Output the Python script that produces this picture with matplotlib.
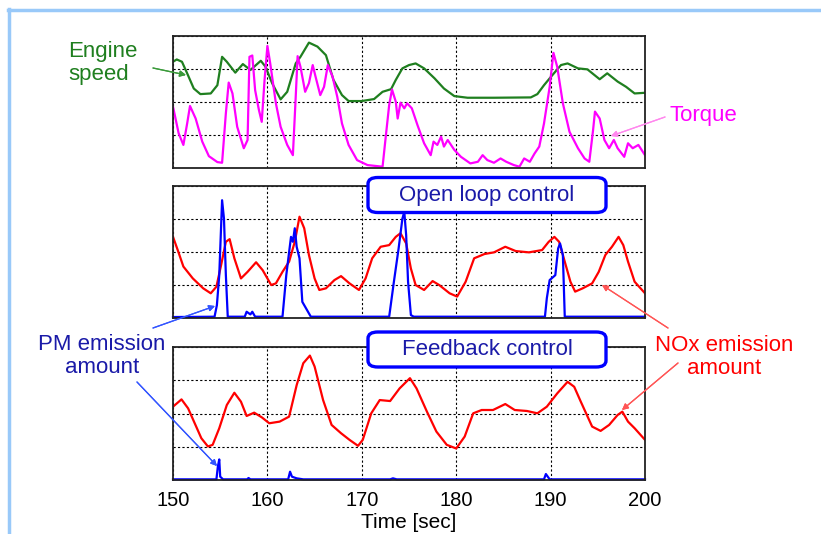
import matplotlib
matplotlib.use("Agg")
import matplotlib.pyplot as plt
from matplotlib.patches import FancyBboxPatch
from matplotlib.lines import Line2D

plt.rcParams['font.family'] = ['Liberation Sans', 'DejaVu Sans']

W, H = 821, 534

# engine speed (grid units 0-4)
speed_t = [150, 150.4, 150.95, 151.5, 152.2, 152.9, 154.0, 154.7, 155.2, 155.7, 156.6, 157.4, 158.2,
           159.3, 159.8, 160.5, 161.4, 162.1, 163.0, 163.5, 164.4, 165.3, 166.2, 167.0, 167.9, 168.6,
           170.0, 171.3, 172.2, 173.1, 173.6, 174.3, 175.0, 175.7, 176.6, 177.7, 178.7, 179.8, 181.2,
           184.0, 187.9, 188.6, 189.3, 190.2, 191.1, 191.8, 192.9, 193.9, 195.2, 196.0, 197.1, 198.0,
           198.9, 200]
speed_v = [3.21, 3.28, 3.21, 2.86, 2.40, 2.23, 2.25, 2.5, 3.36, 3.21, 2.88, 3.14, 2.96,
           3.24, 3.06, 2.56, 2.07, 2.30, 3.16, 3.36, 3.79, 3.67, 3.41, 2.66, 2.20, 2.02,
           2.02, 2.08, 2.30, 2.38, 2.66, 3.01, 3.11, 3.16, 3.01, 2.71, 2.40, 2.17, 2.12,
           2.12, 2.13, 2.23, 2.5, 2.81, 3.11, 3.16, 3.01, 2.98, 2.68, 2.86, 2.61, 2.45,
           2.25, 2.27]

# torque
torque_t = [150, 150.6, 151.1, 151.5, 151.8, 152.4, 153.1, 153.8, 154.7, 155.2, 155.6, 155.9, 156.3,
            156.8, 157.5, 157.9, 158.1, 158.4, 158.7, 159.1, 159.4, 159.7, 160.0, 160.3, 160.9, 161.4,
            162.1, 162.7, 163.0, 163.2, 163.5, 164.0, 164.4, 164.8, 165.1, 165.6, 166.0, 166.4, 166.9,
            167.4, 167.9, 168.6, 169.5, 170.6, 172.2, 172.5, 172.9, 173.2, 173.6, 173.8, 174.1, 174.5,
            174.8, 175.3, 175.9, 176.6, 177.3, 177.6, 178.0, 178.4, 178.7, 179.1, 179.8, 180.5, 181.5,
            182.3, 182.8, 183.3, 184.0, 184.7, 185.3, 186.1, 186.7, 187.2, 187.8, 188.3, 188.8, 189.3,
            189.9, 190.3, 190.7, 191.3, 192.0, 192.9, 193.6, 194.1, 194.5, 194.7, 195.2, 195.7, 196.2,
            196.7, 197.1, 197.8, 198.2, 198.7, 199.3, 200]
torque_v = [1.85, 1.04, 0.69, 1.34, 1.87, 1.49, 0.79, 0.35, 0.17, 0.15, 1.65, 2.58, 2.25,
            1.24, 0.59, 0.84, 3.36, 3.40, 2.35, 1.75, 1.39, 2.66, 3.69, 3.16, 1.95, 1.24,
            0.69, 0.38, 2.15, 3.38, 3.06, 2.30, 2.56, 3.11, 2.76, 2.20, 2.45, 3.11, 2.76,
            2.15, 1.34, 0.69, 0.23, 0.08, 0.03, 0.84, 1.90, 2.37, 2.0, 1.49, 1.97, 1.80,
            1.95, 1.80, 1.29, 0.74, 0.38, 0.79, 0.69, 0.94, 0.64, 0.84, 0.54, 0.33, 0.13,
            0.18, 0.38, 0.23, 0.15, 0.28, 0.18, 0.08, 0.03, 0.28, 0.18, 0.43, 0.64, 1.34,
            2.45, 3.48, 3.06, 1.95, 1.09, 0.59, 0.28, 0.18, 1.14, 1.70, 1.49, 0.84, 0.59,
            0.84, 0.59, 0.33, 0.74, 0.59, 0.69, 0.38]

# NOx, open loop
nox_ol_t = [150, 150.5, 151.1, 152.1, 153.2, 154.0, 154.6, 155.1, 155.6, 156.0, 156.5, 157.2, 157.9,
            158.8, 159.5, 160.4, 160.9, 161.6, 162.3, 162.9, 163.4, 163.9, 164.4, 165.0, 165.5, 166.2,
            167.1, 167.8, 168.7, 169.7, 170.4, 171.1, 172.0, 172.9, 173.6, 174.1, 174.7, 175.2, 175.7,
            176.6, 177.5, 178.2, 179.3, 180.1, 181.0, 181.9, 183.0, 184.0, 185.2, 186.3, 187.7, 189.1,
            189.8, 190.4, 190.9, 191.4, 192.1, 192.6, 193.4, 194.4, 195.1, 195.8, 196.5, 197.2, 197.7,
            198.2, 198.9, 200]
nox_ol_v = [2.45, 2.05, 1.55, 1.19, 0.89, 0.74, 0.94, 1.60, 2.30, 2.38, 1.80, 1.19, 1.39,
            1.68, 1.44, 0.99, 1.04, 1.39, 1.70, 2.30, 3.06, 2.71, 1.90, 1.19, 0.84, 0.89,
            1.14, 1.26, 1.04, 0.84, 1.19, 1.80, 2.15, 2.20, 2.45, 2.56, 2.25, 1.49, 0.99,
            0.84, 1.11, 0.99, 0.74, 0.64, 1.09, 1.80, 1.93, 1.98, 2.15, 2.02, 1.98, 2.05,
            2.30, 2.45, 2.30, 1.80, 1.09, 0.79, 0.89, 1.04, 1.39, 1.90, 2.15, 2.45, 2.20,
            1.70, 1.09, 0.74]

# PM, open loop
pm_ol_t = [150, 154.4, 154.65, 154.9, 155.2, 155.4, 155.6, 155.8, 157.6, 157.8, 158.2, 158.4, 158.7,
           161.6, 162.0, 162.5, 162.7, 162.9, 163.1, 163.4, 163.7, 164.3, 164.6, 172.9, 173.4, 173.9,
           174.3, 174.5, 174.7, 174.9, 175.2, 175.5, 189.4, 189.6, 189.9, 190.5, 190.8, 191.0, 191.3,
           191.5, 200]
pm_ol_v = [0.02, 0.03, 0.38, 1.29, 3.56, 3.0, 1.29, 0.03, 0.03, 0.18, 0.1, 0.18, 0.03,
           0.03, 1.29, 2.45, 2.30, 2.71, 2.15, 1.80, 0.48, 0.18, 0.03, 0.03, 1.09, 2.10,
           3.0, 3.21, 2.5, 1.09, 0.08, 0.03, 0.03, 0.59, 1.14, 1.29, 2.10, 2.25, 1.90,
           0.03, 0.03]

# NOx, feedback
nox_fb_t = [150, 150.9, 151.6, 152.3, 153.0, 153.7, 154.2, 154.9, 155.7, 156.5, 157.2, 157.8, 158.6,
            159.4, 160.2, 161.3, 162.3, 163.1, 163.8, 164.5, 165.0, 165.9, 166.8, 167.8, 168.7, 169.6,
            170.1, 171.0, 171.9, 173.0, 174.0, 175.1, 175.8, 176.9, 177.9, 179.0, 180.0, 180.9, 181.8,
            182.7, 183.9, 185.2, 186.2, 187.5, 188.6, 189.6, 190.7, 191.8, 192.5, 193.2, 194.4, 195.3,
            196.2, 197.1, 197.6, 198.2, 198.9, 200]
nox_fb_v = [2.21, 2.43, 2.16, 1.71, 1.26, 1.01, 1.06, 1.56, 2.26, 2.63, 2.36, 1.93, 2.03,
            1.89, 1.71, 1.76, 1.91, 2.86, 3.52, 3.75, 3.42, 2.41, 1.66, 1.41, 1.21, 1.03,
            1.21, 2.01, 2.41, 2.38, 2.76, 3.07, 2.76, 2.06, 1.46, 1.06, 0.95, 1.31, 2.01,
            2.11, 2.11, 2.29, 2.11, 2.08, 2.01, 2.21, 2.61, 2.96, 2.81, 2.36, 1.61, 1.48,
            1.66, 1.96, 2.06, 1.76, 1.56, 1.21]

# PM, feedback
pm_fb_t = [150, 154.6, 154.75, 154.9, 155.0, 155.3, 157.85, 158.0, 158.2, 162.2, 162.4, 162.6, 163.1,
           163.8, 173.0, 173.3, 173.7, 189.3, 189.5, 189.7, 189.9, 200]
pm_fb_v = [0.02, 0.02, 0.40, 0.62, 0.10, 0.02, 0.02, 0.06, 0.02, 0.02, 0.25, 0.10, 0.05,
           0.02, 0.02, 0.05, 0.02, 0.02, 0.18, 0.10, 0.02, 0.02]

x_ticks = [150, 160, 170, 180, 190, 200]

GREEN = '#1f7f1f'
MAGENTA = '#ff00ff'
RED = '#ff0000'
BLUE = '#0000ff'
DARKBLUE = '#1a1aa8'


def fx(px):
    return px / W


def fy(py):
    return 1 - py / H


fig = plt.figure(figsize=(W / 100, H / 100), dpi=100)

left, width = fx(173), fx(645) - fx(173)
ax_top = fig.add_axes([left, fy(167.7), width, fy(35.7) - fy(167.7)])
ax_mid = fig.add_axes([left, fy(317.7), width, fy(185.7) - fy(317.7)])
ax_bot = fig.add_axes([left, fy(480), width, fy(347.3) - fy(480)])

for ax in (ax_top, ax_mid, ax_bot):
    ax.set_xlim(150, 200)
    ax.set_ylim(0, 4)
    ax.set_xticks(x_ticks)
    ax.set_yticks([0, 1, 2, 3, 4])
    ax.set_yticklabels([])
    ax.tick_params(length=0, labelsize=14.5, pad=8)
    ax.grid(True, color='black', linestyle=(0, (2, 2)), linewidth=0.8)
    for s in ax.spines.values():
        s.set_linewidth(1.3)
        s.set_color('#222222')
for ax in (ax_top, ax_mid):
    ax.set_xticklabels([])

line_kw = dict(lw=1.6, solid_joinstyle='round')
ax_top.plot(speed_t, speed_v, color=GREEN, **line_kw)
ax_top.plot(torque_t, torque_v, color=MAGENTA, **line_kw)

ax_mid.plot(nox_ol_t, nox_ol_v, color=RED, **line_kw)
ax_mid.plot(pm_ol_t, pm_ol_v, color=BLUE, clip_on=False, **line_kw)

ax_bot.plot(nox_fb_t, nox_fb_v, color=RED, **line_kw)
ax_bot.plot(pm_fb_t, pm_fb_v, color=BLUE, clip_on=False, **line_kw)
ax_bot.set_xlabel('Time [sec]', fontsize=15, labelpad=2)

# control mode boxes
for label, cy in (('Open loop control', 195), ('Feedback control', 349.5)):
    bw, bh = 238, 35
    box = FancyBboxPatch((fx(487 - bw / 2), fy(cy + bh / 2)), fx(bw), bh / H,
                         boxstyle='round,pad=0,rounding_size=0.012',
                         transform=fig.transFigure, facecolor='white',
                         edgecolor=BLUE, linewidth=2.4, zorder=10)
    fig.add_artist(box)
    fig.text(fx(487), fy(cy), label, ha='center', va='center', fontsize=16,
             color=DARKBLUE, zorder=11)

# labels with arrows
fig.text(fx(68), fy(63), 'Engine\nspeed', ha='left', va='center', fontsize=16,
         color=GREEN, linespacing=1.15)
fig.text(fx(669), fy(116), 'Torque', ha='left', va='center', fontsize=16, color=MAGENTA)
fig.text(fx(102), fy(356), 'PM emission\namount', ha='center', va='center', fontsize=16,
         color=DARKBLUE, linespacing=1.1)
fig.text(fx(724), fy(357), 'NOx emission\namount', ha='center', va='center', fontsize=16,
         color=RED, linespacing=1.1)

arrows = [
    ((153, 68), (186, 75), '#3a9a3a'),
    ((665, 117), (611, 136), '#ff88ee'),
    ((153, 328), (215, 306), '#3355ff'),
    ((137, 382), (217, 466), '#3355ff'),
    ((668, 328), (602, 285), '#ff5555'),
    ((678, 363), (622, 410), '#ff5555'),
]
for (x0, y0), (x1, y1), c in arrows:
    fig.add_artist(plt.annotate('', xy=(fx(x1), fy(y1)), xytext=(fx(x0), fy(y0)),
                                xycoords='figure fraction', textcoords='figure fraction',
                                arrowprops=dict(arrowstyle='-|>', color=c, lw=0.9,
                                                mutation_scale=9, shrinkA=0, shrinkB=0)))

# light blue frame (top and left)
fig.add_artist(Line2D([fx(8), 1], [fy(10), fy(10)], color='#99c9f9', lw=2.5,
                      transform=fig.transFigure))
fig.add_artist(Line2D([fx(9), fx(9)], [fy(9), 0], color='#99c9f9', lw=2.5,
                      transform=fig.transFigure))

fig.savefig('out.png', dpi=100)
